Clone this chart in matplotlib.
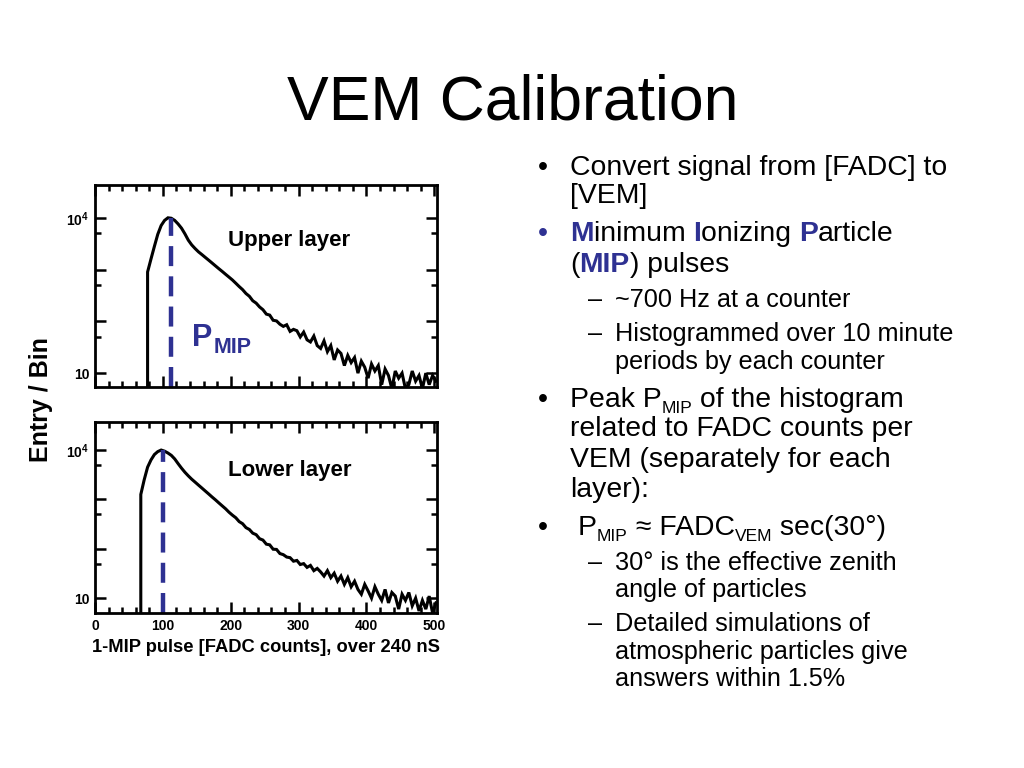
import numpy as np
import matplotlib
matplotlib.use('Agg')
import matplotlib.pyplot as plt
from matplotlib.ticker import MultipleLocator, FixedLocator, FuncFormatter

plt.rcParams['font.family'] = ['Liberation Sans', 'DejaVu Sans']
plt.rcParams['mathtext.fontset'] = 'custom'
plt.rcParams['mathtext.rm'] = 'Liberation Sans'
plt.rcParams['mathtext.bf'] = 'Liberation Sans:bold'

# histogram data, 5 FADC counts per bin (first bin is empty)
BIN_WIDTH = 5
upper_start = 70
upper_counts = [0,
                900, 1600, 2800, 4800, 7100, 8900, 10000, 9800, 8900, 7600,
                6300, 4900, 3700, 3000, 2550, 2200, 1950, 1720, 1520, 1340,
                1180, 1040, 920, 810, 715,
                630, 545, 470, 410, 345, 305, 250, 225, 190, 168, 138, 132, 105, 102,
                88, 80, 86, 64, 70, 66, 50, 62, 44, 40,
                52, 34, 30, 42, 26, 34, 18, 28, 24, 14,
                22, 16, 20, 10, 17, 13, 8, 15, 11, 14,
                6, 12, 9, 5, 11, 8, 10, 5, 6, 11,
                7, 9, 5, 10, 6, 9, 7]
lower_start = 60
lower_counts = [0,
                1260, 2500, 4500, 6300, 8100, 9300, 10000, 9500, 8700, 7800,
                6600, 5300, 4300, 3550, 3000, 2570, 2240, 1950, 1700, 1480,
                1290, 1120, 980, 850, 740, 645, 550,
                480, 425, 355, 322, 268, 246, 207, 193, 160, 150, 124, 120, 98, 97,
                80, 76, 68, 66, 56, 58, 48, 50, 42, 46,
                36, 40, 34, 28, 36, 26, 32, 22, 28, 19,
                26, 17, 22, 15, 12, 19, 14, 10, 17, 12,
                9, 15, 8, 13, 11, 6, 12, 9, 13, 7,
                10, 5.5, 9, 6, 11, 5, 8]
upper_peak = 112
lower_peak = 100
panel_names = ['Upper layer', 'Lower layer']
x_max = 504

BLUE = '#2e3192'


def style_axes(ax, ylim, show_xlabels):
    ax.set_yscale('log')
    ax.set_xlim(0, x_max)
    ax.set_ylim(*ylim)
    for s in ax.spines.values():
        s.set_linewidth(2)
    ax.tick_params(which='both', direction='in', top=True, right=True, width=1.8)
    ax.tick_params(which='major', length=8, labelsize=10, pad=4)
    ax.tick_params(which='minor', length=4)
    ax.xaxis.set_major_locator(MultipleLocator(100))
    ax.xaxis.set_minor_locator(MultipleLocator(20))
    ax.yaxis.set_major_locator(FixedLocator([10, 100, 1000, 10000]))
    ax.yaxis.set_minor_locator(FixedLocator([50, 500, 5000]))
    ax.yaxis.set_major_formatter(FuncFormatter(
        lambda v, p: {10: '10', 10000: r'$\mathbf{10^4}$'}.get(int(round(v)), '')))
    if show_xlabels:
        ax.xaxis.set_major_formatter(FuncFormatter(lambda v, p: '%d' % v))
    else:
        ax.set_xticklabels([])
    for lab in ax.get_xticklabels() + ax.get_yticklabels():
        lab.set_fontweight('bold')


fig = plt.figure(figsize=(10.24, 7.68), dpi=100)

ax1 = fig.add_axes([95 / 1024, 1 - 387 / 768, 342 / 1024, 202 / 768])
ax2 = fig.add_axes([95 / 1024, 1 - 613 / 768, 342 / 1024, 191 / 768])

panels = [(ax1, upper_start, upper_counts, upper_peak, (5.4, 43000), 0.70),
          (ax2, lower_start, lower_counts, lower_peak, (5.0, 37000), 0.715)]
for i, (ax, start, counts, peak, ylim, ty) in enumerate(panels):
    centers = start + BIN_WIDTH * (np.arange(len(counts)) + 0.5)
    ax.plot(centers, counts, color='black', lw=2.2, solid_joinstyle='miter')
    ax.plot([peak, peak], [ylim[0], max(counts)], color=BLUE, lw=3.2,
            dashes=(4.5, 2.3))
    style_axes(ax, ylim, show_xlabels=(i == 1))
    ax.text(0.39, ty, panel_names[i], transform=ax.transAxes,
            fontsize=16, fontweight='bold', va='baseline')

renderer = fig.canvas.get_renderer()

p_txt = fig.text(192 / 1024, 1 - 346 / 768, 'P', fontsize=22, fontweight='bold',
                 color=BLUE, va='baseline')
p_w = p_txt.get_window_extent(renderer).width
fig.text((192 + p_w + 1) / 1024, 1 - 353 / 768, 'MIP', fontsize=15.5,
         fontweight='bold', color=BLUE, va='baseline')

fig.text(41 / 1024, 1 - 400 / 768, 'Entry / Bin', rotation=90, fontsize=18,
         fontweight='bold', ha='center', va='center')
fig.text(266 / 1024, 1 - 648 / 768, '1-MIP pulse [FADC counts], over 240 nS',
         fontsize=13.2, fontweight='bold', ha='center', va='center')

fig.text(513 / 1024, 1 - 120 / 768, 'VEM Calibration', fontsize=45,
         ha='center', va='baseline')


# bullet text, drawn run by run so colours and subscripts can be mixed
def put_runs(x, y, runs):
    for txt, size, color, weight, shift in runs:
        t = fig.text(x / 1024, 1 - (y + shift) / 768, txt, fontsize=size,
                     color=color, fontweight=weight, va='baseline')
        x += t.get_window_extent(renderer).width


L1, L2, SUB1 = 20.4, 18.2, 12.5
K = 'black'
lines = [
    (538, 570, 175, L1, K, [('Convert signal from [FADC] to', L1, K, 'normal', 0)]),
    (None, 570, 203, L1, K, [('[VEM]', L1, K, 'normal', 0)]),
    (538, 570, 241, L1, BLUE, [('M', L1, BLUE, 'bold', 0), ('inimum ', L1, K, 'normal', 0),
                               ('I', L1, BLUE, 'bold', 0), ('onizing ', L1, K, 'normal', 0),
                               ('P', L1, BLUE, 'bold', 0), ('article', L1, K, 'normal', 0)]),
    (None, 570, 272, L1, K, [('(', L1, K, 'normal', 0), ('MIP', L1, BLUE, 'bold', 0),
                             (') pulses', L1, K, 'normal', 0)]),
    (588, 615, 307, L2, K, [('~700 Hz at a counter', L2, K, 'normal', 0)]),
    (588, 615, 341, L2, K, [('Histogrammed over 10 minute', L2, K, 'normal', 0)]),
    (None, 615, 369, L2, K, [('periods by each counter', L2, K, 'normal', 0)]),
    (538, 570, 407, L1, K, [('Peak P', L1, K, 'normal', 0), ('MIP', SUB1, K, 'normal', 6),
                            (' of the histogram', L1, K, 'normal', 0)]),
    (None, 570, 436, L1, K, [('related to FADC counts per', L1, K, 'normal', 0)]),
    (None, 570, 467, L1, K, [('VEM (separately for each', L1, K, 'normal', 0)]),
    (None, 570, 497, L1, K, [('layer):', L1, K, 'normal', 0)]),
    (538, 578, 535, L1, K, [('P', L1, K, 'normal', 0), ('MIP', SUB1, K, 'normal', 6),
                            (' \u2248 FADC', L1, K, 'normal', 0), ('VEM', SUB1, K, 'normal', 6),
                            (' sec(30\u00b0)', L1, K, 'normal', 0)]),
    (588, 615, 570, L2, K, [('30\u00b0 is the effective zenith', L2, K, 'normal', 0)]),
    (None, 615, 597, L2, K, [('angle of particles', L2, K, 'normal', 0)]),
    (588, 615, 631, L2, K, [('Detailed simulations of', L2, K, 'normal', 0)]),
    (None, 615, 659, L2, K, [('atmospheric particles give', L2, K, 'normal', 0)]),
    (None, 615, 686, L2, K, [('answers within 1.5%', L2, K, 'normal', 0)]),
]
for bx, tx, y, size, bcol, runs in lines:
    if bx is not None:
        mark = '\u2022' if size == L1 else '\u2013'
        fig.text(bx / 1024, 1 - y / 768, mark, fontsize=size, color=bcol, va='baseline')
    put_runs(tx, y, runs)

fig.savefig('out.png', dpi=100)
